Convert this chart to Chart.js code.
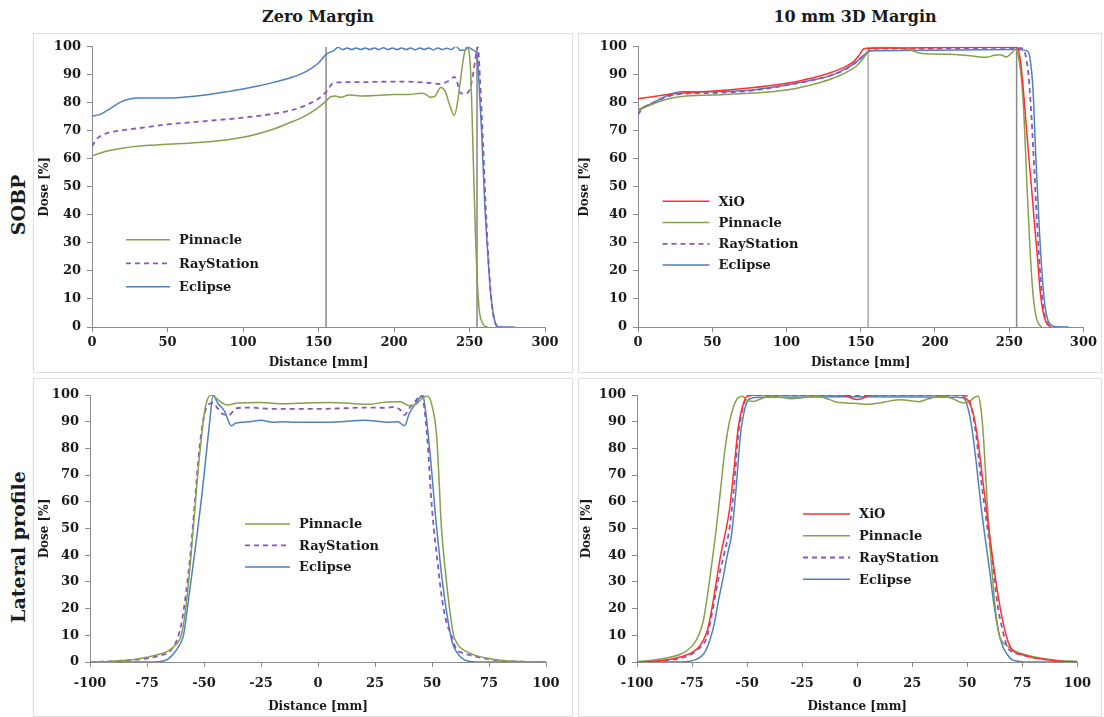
<!DOCTYPE html>
<html>
<head>
<meta charset="utf-8">
<script src="https://cdn.jsdelivr.net/npm/chart.js@4.4.1/dist/chart.umd.min.js"></script>
<style>
  body { margin: 0; background: #fff; width: 1104px; height: 717px; position: relative; overflow: hidden; font-family: "DejaVu Serif", serif; color: #1a1a1a; }
  .box { position: absolute; border: 1px solid #dedede; box-sizing: border-box; }
  canvas { position: absolute; }
  .col { position: absolute; top: 7px; font-weight: bold; font-size: 16px; transform: translateX(-50%); white-space: nowrap; }
  .row { position: absolute; font-weight: bold; font-size: 19px; transform: translate(-50%, -50%) rotate(-90deg); white-space: nowrap; }
</style>
</head>
<body>
<div class="col" style="left:318px">Zero Margin</div>
<div class="col" style="left:855px">10 mm 3D Margin</div>
<div class="row" style="left:18px; top:205px">SOBP</div>
<div class="row" style="left:18px; top:547px">Lateral profile</div>

<div class="box" style="left:33px; top:33px; width:540px; height:340px"></div>
<div class="box" style="left:578px; top:33px; width:524px; height:340px"></div>
<div class="box" style="left:33px; top:378px; width:540px; height:339px"></div>
<div class="box" style="left:578px; top:378px; width:524px; height:339px"></div>

<canvas id="c1" width="540" height="340" style="left:33px; top:33px"></canvas>
<canvas id="c2" width="522" height="340" style="left:578px; top:33px"></canvas>
<canvas id="c3" width="540" height="339" style="left:33px; top:378px"></canvas>
<canvas id="c4" width="522" height="339" style="left:578px; top:378px"></canvas>

<script>
// ---- data: [distance mm, dose %] ----
const zmSobpPinnacle = [[0,61],[5,62],[10,62.8],[20,63.8],[30,64.5],[40,64.9],[50,65.2],[60,65.5],[75,66],[90,66.8],[100,67.7],[110,69],[120,70.6],[130,72.7],[140,75],[148,77.6],[155,80.6],[158,82.2],[161,82.4],[165,82],[170,82.8],[180,82.4],[190,82.7],[200,83],[210,83],[218,83.4],[221,83],[224,82],[227,82.3],[231,85.5],[234,84],[237,79],[240,75.5],[242,80],[244,88],[246,96],[248,100],[250,97],[251,88],[252,70],[253,50],[254,32],[255,18],[256,9],[257,4],[258.5,1.5],[260,0.3],[262,0]];
const zmSobpRay = [[0,64.5],[3,67],[6,68.3],[10,69.2],[20,70.2],[30,70.9],[50,72.3],[75,73.5],[100,74.7],[120,76.1],[135,77.8],[145,80],[152,82.3],[156,84.5],[159,86.8],[163,87.3],[180,87.4],[200,87.6],[220,87.3],[230,86.8],[236,87.8],[240,89.3],[242,87],[244,83.5],[247,83.3],[250,84.5],[252,89],[254,96],[255.5,100],[257,88],[259,65],[261,40],[263,20],[265,7],[267,1.5],[269,0],[272,0]];
const zmSobpEclipse = [[0,75.3],[5,75.8],[10,77.3],[15,79],[20,80.5],[25,81.4],[30,81.7],[50,81.7],[60,82],[75,82.8],[90,84],[100,84.9],[110,86],[120,87.3],[130,88.7],[140,90.7],[145,92.2],[150,94.2],[155,97.3],[160,98.6],[163,99.8],[166,99.0],[169,99.6],[172,99.0],[175,99.6],[178,99.0],[181,99.6],[184,99.0],[187,99.6],[190,99.0],[193,99.7],[196,99.0],[199,99.6],[202,99.0],[205,99.6],[208,99.0],[211,99.6],[214,98.9],[217,99.6],[220,99.0],[223,99.6],[226,98.9],[229,99.6],[232,99.0],[235,99.5],[238,99.0],[241,100.2],[244,98.8],[247,98.8],[249,99.8],[252,99],[255,97],[256,90],[258,70],[260,45],[262,27],[264,12],[266,4],[268,0.5],[270,0],[280,0]];
const zmSobpRefLines = [155, 255];

const mgSobpXio = [[0,81.5],[10,82.2],[20,83],[30,83.5],[50,84.2],[75,85.3],[100,87],[110,88],[120,89.2],[130,90.8],[140,93],[145,94.6],[149,97],[152,99.3],[155,99.5],[180,99.6],[200,99.7],[230,99.8],[255,99.8],[257,97],[259,88],[261,75],[263,62],[265,50],[267,37],[269,25],[271,12],[273,5],[275,1.5],[278,0]];
const mgSobpPinnacle = [[0,77.3],[10,79.6],[20,81.4],[30,82.3],[50,82.8],[75,83.4],[100,84.6],[110,85.6],[120,86.9],[130,88.5],[140,90.8],[148,93.6],[153,96.8],[156,99.3],[160,99.9],[170,99.8],[180,99.2],[185,98.6],[190,97.7],[200,97.4],[210,97.3],[220,97],[230,96.4],[235,96.3],[240,97],[244,97.2],[248,96.4],[252,98],[254,99.2],[256,97],[258,90],[260,75],[262,50],[264,28],[266,12],[268,4],[270,1],[272,0]];
const mgSobpRay = [[0,75.8],[3,78],[10,80],[20,82.3],[30,83.2],[50,83.5],[75,84.3],[100,86.3],[120,88.4],[130,89.8],[140,92],[148,95],[153,97.5],[156,98.6],[160,99.3],[200,99.4],[240,99.6],[258,99.5],[261,97],[263,90],[265,75],[267,55],[269,35],[271,18],[273,7],[275,2],[278,0.3],[280,0]];
const mgSobpEclipse = [[0,77.5],[10,80],[20,82.6],[25,83.6],[30,84],[50,84],[75,84.5],[100,86.4],[120,88.4],[130,89.8],[140,92.2],[148,95],[153,97.4],[156,98.5],[160,98.6],[200,98.8],[250,99],[262,98.6],[264,96],[266,85],[268,60],[270,38],[272,20],[274,8],[276,2.5],[278,0.8],[280,0.2],[290,0]];
const mgSobpRefLines = [155, 255];

const zmLatPinnacle = [[-100,0],[-90,0.3],[-80,1],[-75,1.8],[-70,2.8],[-66,4],[-63,6],[-60,10],[-58,20],[-56,37],[-54.5,52],[-53,68],[-51,85],[-49.5,95],[-47,100],[-45,99],[-42,97],[-40,96.3],[-35,97],[-25,97.2],[-15,96.7],[-5,97],[5,97.2],[15,96.8],[22,96.5],[30,97.4],[36,97.5],[40,96],[43,96.5],[46,99],[48,99.5],[50,96],[52,85],[53,70],[54,52],[56,33],[58,18],[59.5,10],[61,7],[63,5],[66,3.5],[70,2.2],[75,1.3],[80,0.7],[90,0.2],[100,0]];
const zmLatRay = [[-100,0],[-80,0.8],[-70,2.3],[-65,4],[-62,8],[-60,14],[-58,25],[-56,40],[-54,60],[-52,80],[-50,92],[-48,96.5],[-46,97],[-44,95],[-42,93],[-39,92.5],[-36,95],[-30,95.3],[-20,94.8],[-10,94.8],[0,94.8],[10,95],[20,95.3],[30,95.2],[33,95.5],[36,94.5],[38,92.5],[40,95],[43,98],[45.2,100],[46.5,96],[47.5,88],[48.5,77],[49.5,63],[50.8,50],[52.5,37],[54,26],[56,16],[58.5,10],[60.5,5],[63,3.5],[67,2.5],[72,1.5],[80,0.5],[90,0.1],[100,0]];
const zmLatEclipse = [[-100,0],[-75,0],[-70,0.1],[-66,1],[-63,3.5],[-61,6],[-59,10],[-57,22],[-55,35],[-53,48],[-51,62],[-49,78],[-47.5,90],[-46,100],[-44,97],[-41,94],[-38,88.5],[-36,89.5],[-30,90],[-25,90.5],[-20,89.8],[-15,90],[-10,89.8],[0,89.8],[10,90],[20,90.5],[25,90.3],[30,89.8],[35,90],[38,88.5],[40,93],[43,97],[46,100],[47,95],[48,88],[49.5,75],[51.5,55],[53.5,38],[55.5,24],[57.5,13],[59,7],[61,3.5],[63,1.5],[66,0.3],[70,0],[100,0]];

const mgLatXio = [[-100,0],[-90,0.5],[-80,2],[-75,3.5],[-72,5.5],[-70,8],[-68,12],[-66,20],[-64,30],[-62,40],[-60,48],[-58,57],[-56,72],[-54,88],[-52,96],[-50,99.5],[-45,100],[-7,100],[0,98.3],[7,100],[47,100],[49,99],[51,97],[53,92],[55,82],[57,68],[59,55],[61,42],[63,30],[65,20],[67,12],[69,6.5],[71,4],[74,3],[78,2],[85,1],[92,0.3],[100,0]];
const mgLatPinnacle = [[-100,0.2],[-95,0.5],[-90,1],[-85,1.8],[-80,3],[-77,4.5],[-74,7],[-72,10],[-70,15],[-68,25],[-66,37],[-64,50],[-62,65],[-60,80],[-58,90],[-56,96],[-54,99],[-52,99.5],[-50,98],[-47,97.6],[-44,98.5],[-40,99.5],[-35,99.2],[-30,98.6],[-25,99],[-20,99.6],[-15,99],[-10,97.5],[-5,97],[0,96.8],[5,96.5],[10,97],[15,97.8],[20,98.2],[25,97.8],[28,97.5],[32,98.5],[38,99.5],[42,99],[45,98],[48,97],[51,97.5],[53,99],[55,99.5],[56,96],[57,88],[58,75],[59,60],[60,47],[61,36],[62,26],[63,18],[64.5,10],[66,7.5],[69,5.5],[72,4],[76,2.8],[80,2],[90,0.7],[100,0.2]];
const mgLatRay = [[-100,0],[-90,0.3],[-80,1.5],[-75,3],[-72,5],[-70,6.5],[-68,10],[-66,18],[-64,27],[-62,35],[-60,42],[-58,50],[-56,65],[-54,85],[-52,95],[-50,99.5],[-48,100],[49,100],[51,98],[52,95],[54,85],[56,70],[58,57],[60,45],[62,33],[64,20],[66,12],[68,6],[70,4],[73,3],[78,2],[85,1],[92,0.3],[100,0]];
const mgLatEclipse = [[-100,0],[-80,0],[-76,0.3],[-73,1],[-71,2],[-69,4],[-67,8],[-65,14],[-63,23],[-61,31],[-59,40],[-57,48],[-55,65],[-53,85],[-51,95],[-49,98.5],[-45,99.2],[0,99.3],[45,99.2],[48,99],[50,96],[52,88],[54,75],[56,60],[58,47],[60,35],[62,22],[64,12],[66,6],[68,3],[70,1],[73,0.3],[76,0],[100,0]];

const doseTicks = { min: 0, max: 100, step: 10 };
const depthTicks = { min: 0, max: 300, step: 50 };
const lateralTicks = { min: -100, max: 100, step: 25 };

// ---- styles ----
const FONT = '"DejaVu Serif", serif';
const TXT = '#1a1a1a';
const colXio = '#ff3030';
const colPinnacle = '#86a04c';
const colRay = '#8a55c2';
const colEclipse = '#4f81bd';

const pts = arr => arr.map(([x, y]) => ({ x, y }));

function series(label, data, color, dashed) {
  return {
    label, data: pts(data), borderColor: color, backgroundColor: color,
    borderWidth: dashed ? 1.8 : 1.5, borderDash: dashed ? [5, 4] : [],
    pointRadius: 0, fill: false, cubicInterpolationMode: 'monotone', order: 1
  };
}

function refLine(x, color, width) {
  return {
    label: '', data: [{ x, y: 0 }, { x, y: 100 }], borderColor: color,
    borderWidth: width, pointRadius: 0, tension: 0, order: 5
  };
}

// legend drawn inside the plot area
const innerLegend = {
  id: 'innerLegend',
  afterDatasetsDraw(chart, args, opts) {
    const { ctx, chartArea: a } = chart;
    const x0 = a.left + opts.x * (a.right - a.left);
    let y = a.top + opts.y * (a.bottom - a.top);
    ctx.save();
    ctx.font = 'bold 13px ' + FONT;
    ctx.textBaseline = 'middle';
    chart.data.datasets.forEach(ds => {
      if (!ds.label) return;
      ctx.strokeStyle = ds.borderColor;
      ctx.lineWidth = ds.borderWidth;
      ctx.setLineDash(ds.borderDash || []);
      ctx.beginPath();
      ctx.moveTo(x0, y);
      ctx.lineTo(x0 + opts.len, y);
      ctx.stroke();
      ctx.setLineDash([]);
      ctx.fillStyle = TXT;
      ctx.fillText(ds.label, x0 + opts.len + 9, y + 1);
      y += opts.gap;
    });
    ctx.restore();
  }
};

function makeChart(id, datasets, xt, lay, leg) {
  const axisCommon = {
    border: { color: '#8c8c8c', width: 1 },
    grid: { drawOnChartArea: false, drawTicks: true, tickLength: 5, color: '#8c8c8c' }
  };
  return new Chart(document.getElementById(id), {
    type: 'line',
    data: { datasets },
    options: {
      responsive: false,
      animation: false,
      layout: { padding: { left: 0, right: lay.right, top: lay.top, bottom: 0 } },
      plugins: { legend: { display: false }, tooltip: { enabled: false }, innerLegend: leg },
      scales: {
        x: {
          ...axisCommon,
          type: 'linear', min: xt.min, max: xt.max,
          afterFit: s => { s.height = lay.xh; },
          ticks: { stepSize: xt.step, autoSkip: false, maxRotation: 0, padding: lay.xpad, color: TXT, font: { family: FONT, size: 13, weight: 'bold' } },
          title: { display: true, text: 'Distance [mm]', color: TXT, padding: { top: 0, bottom: 3 }, font: { family: FONT, size: 12, weight: 'bold' } }
        },
        y: {
          ...axisCommon,
          min: doseTicks.min, max: doseTicks.max,
          afterFit: s => { s.width = lay.yw; },
          ticks: { stepSize: doseTicks.step, autoSkip: false, padding: 6, color: TXT, font: { family: FONT, size: 13, weight: 'bold' } },
          title: { display: true, text: 'Dose [%]', color: TXT, padding: { top: lay.ytp, bottom: 0 }, font: { family: FONT, size: 12, weight: 'bold' } }
        }
      }
    },
    plugins: [innerLegend]
  });
}

makeChart('c1', [
  series('Pinnacle', zmSobpPinnacle, colPinnacle, false),
  series('RayStation', zmSobpRay, colRay, true),
  series('Eclipse', zmSobpEclipse, colEclipse, false),
  refLine(zmSobpRefLines[0], '#505050', 1),
  refLine(zmSobpRefLines[1], '#a0a0a0', 2)
], depthTicks, { right: 28, top: 11, yw: 59, xh: 46, xpad: 3, ytp: 5 }, { x: 0.075, y: 0.689, gap: 23.5, len: 44 });

makeChart('c2', [
  series('XiO', mgSobpXio, colXio, false),
  series('Pinnacle', mgSobpPinnacle, colPinnacle, false),
  series('RayStation', mgSobpRay, colRay, true),
  series('Eclipse', mgSobpEclipse, colEclipse, false),
  refLine(mgSobpRefLines[0], '#a6a6a6', 1.5),
  refLine(mgSobpRefLines[1], '#8a8a8a', 1.5)
], depthTicks, { right: 10, top: 11, yw: 60, xh: 46, xpad: 3, ytp: 0 }, { x: 0.055, y: 0.551, gap: 21.3, len: 47 });

makeChart('c3', [
  series('Pinnacle', zmLatPinnacle, colPinnacle, false),
  series('RayStation', zmLatRay, colRay, true),
  series('Eclipse', zmLatEclipse, colEclipse, false)
], lateralTicks, { right: 27, top: 17, yw: 57, xh: 55, xpad: 9, ytp: 5 }, { x: 0.34, y: 0.483, gap: 21.5, len: 45 });

makeChart('c4', [
  series('XiO', mgLatXio, colXio, false),
  series('Pinnacle', mgLatPinnacle, colPinnacle, false),
  series('RayStation', mgLatRay, colRay, true),
  series('Eclipse', mgLatEclipse, colEclipse, false)
], lateralTicks, { right: 10, top: 17, yw: 59, xh: 55, xpad: 9, ytp: 2 }, { x: 0.377, y: 0.446, gap: 21.7, len: 47 });
</script>
</body>
</html>
